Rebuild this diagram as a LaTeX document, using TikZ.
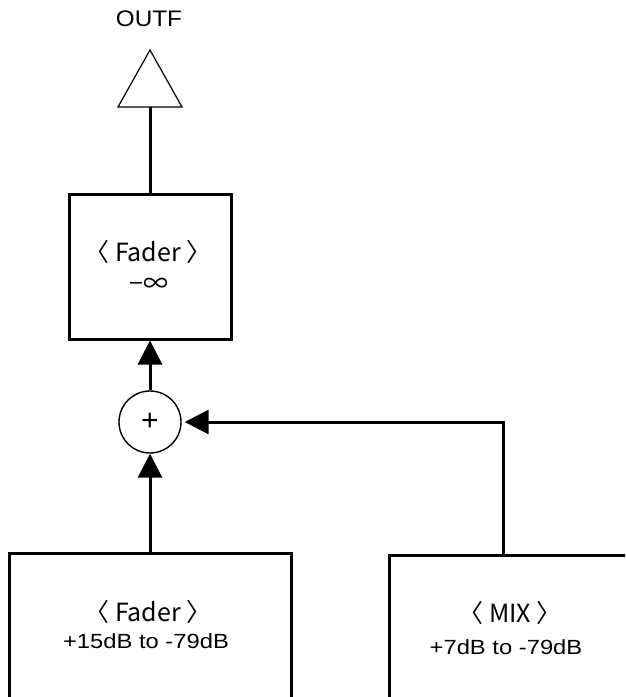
\documentclass[tikz,border=0pt]{standalone}
\usepackage{fontspec}
\setmainfont{Liberation Sans}
\newfontfamily\jpfont{Noto Sans CJK JP}
\usetikzlibrary{arrows.meta}
\newcommand\wide[2][1.19]{\scalebox{#1}[1]{#2}}
\tikzset{
  blk/.style={draw, line width=3pt, rectangle, inner sep=0pt},
  wire/.style={line width=3pt},
  sig/.style={wire, -{Triangle[length=24pt, width=24pt]}},
  jp/.style={font=\jpfont\fontsize{25}{27}\selectfont, inner sep=0pt},
  lat/.style={font=\fontsize{20.5}{22}\selectfont, inner sep=0pt},
}
\begin{document}
\begin{tikzpicture}[x=1pt, y=-1pt]
\clip (0,0) rectangle (625,697);
% output label and amplifier symbol
\node[font=\fontsize{22.5}{24}\selectfont, inner sep=0pt] (outf) at (149,19) {\wide[1.08]{OUTF}};
\coordinate (apex) at (150,50);
\coordinate (tribase) at (150,107);
\draw[line width=1.2pt, line join=miter] (apex) -- (118,107) -- (182,107) -- cycle;
% blocks
\node[blk, minimum width=162pt, minimum height=145pt] (fader1) at (150,266.5) {};
\node[jp] (f1a) at (148,252) {〈 Fader 〉};
\node[jp] (f1b) at (149,285) {−∞};
\node[draw, circle, line width=1.4pt, minimum size=62pt, inner sep=0pt,
      font=\fontsize{30}{32}\selectfont] (sum) at (150,422) {+};
\node[blk, minimum width=282pt, minimum height=170pt] (fader2) at (150,638) {};
\node[jp] (f2a) at (148,612) {〈 Fader 〉};
\node[lat] (f2b) at (146,641) {\wide[1.16]{+15dB to -79dB}};
\node[blk, minimum width=262pt, minimum height=170pt] (mix) at (520,640) {};
\node[jp] (m1) at (510,613) {〈 MIX 〉};
\node[lat] (m2) at (506,647) {\wide[1.16]{+7dB to -79dB}};
\coordinate (mixtap) at (503,555);
% connectors
\draw[wire] (tribase) -- (fader1.north);
\draw[sig] (sum.north) -- (fader1.south);
\draw[sig] (fader2.north) -- (sum.south);
\draw[sig, shorten >=3pt] (mixtap) |- (sum.east);
\end{tikzpicture}
\end{document}
